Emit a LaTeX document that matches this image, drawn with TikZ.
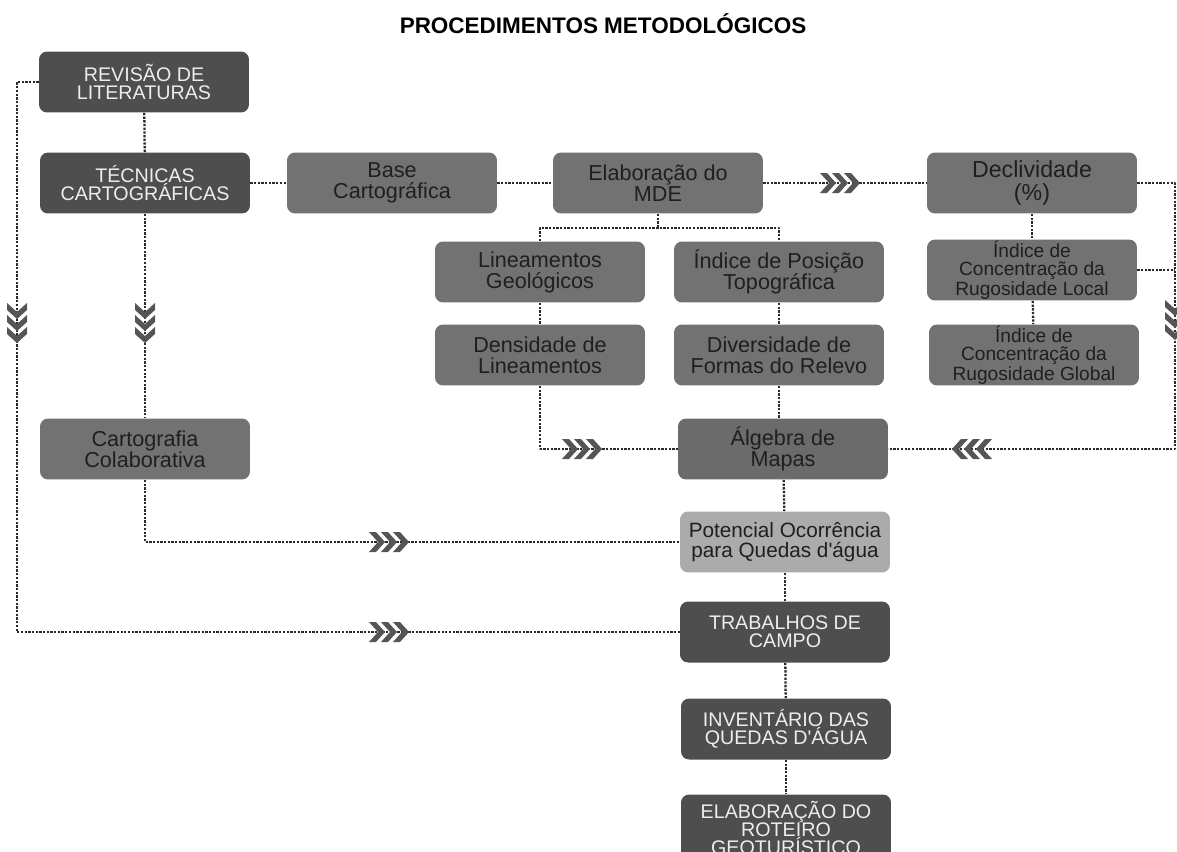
\documentclass[tikz,border=0pt]{standalone}
\usepackage{fontspec}
\setmainfont{Liberation Sans}
\definecolor{boxdark}{HTML}{4E4E4E}
\definecolor{boxmid}{HTML}{727272}
\definecolor{boxlight}{HTML}{ABABAB}
\definecolor{chevgray}{HTML}{555555}
\definecolor{dotgray}{HTML}{2A2A2A}
\tikzset{
  every picture/.style={line join=round},
  box/.style={rectangle, rounded corners=0.16cm, minimum width=4.2cm, minimum height=1.22cm, inner sep=0pt, align=center},
  darkbox/.style={box, fill=boxdark, text=white!93!black, font=\fontsize{11.2}{10.4}\selectfont},
  midbox/.style={box, fill=boxmid, text=black!88, font=\fontsize{12.3}{12}\selectfont},
  lightbox/.style={box, fill=boxlight, text=black!88, font=\fontsize{11.8}{11.6}\selectfont},
  link/.style={dotgray, line width=1.3pt, dash pattern=on 1.3pt off 0.8pt},
  chevs/.pic={
    \foreach \d in {-12,0,12}
      \fill[chevgray] (\d-8,10) -- (\d-1,10) -- (\d+8,0) -- (\d-1,-10) -- (\d-8,-10) -- (\d+1,0) -- cycle;
  },
}

\begin{document}
\begin{tikzpicture}[x=0.02cm, y=-0.02cm]
\useasboundingbox (0,0) rectangle (1177,852);
\node[font=\bfseries\fontsize{12.8}{14}\selectfont] (title) at (603,24) {PROCEDIMENTOS METODOLÓGICOS};

% coluna da esquerda
\node[darkbox] (rev) at (144,82) {REVISÃO DE\\LITERATURAS};
\node[darkbox] (tec) at (145,183) {TÉCNICAS\\CARTOGRÁFICAS};
\node[midbox] (carto) at (145,449) {Cartografia\\Colaborativa};

% linha do MDE
\node[midbox] (base) at (392,183) {Base\\Cartográfica};
\node[midbox] (mde) at (658,183) {Elaboração do\\MDE};
\node[midbox, font=\fontsize{13.2}{13}\selectfont] (decl) at (1032,183) {Declividade\\(\%)};
\node[midbox] (lin) at (540,272) {Lineamentos\\Geológicos};
\node[midbox] (ipt) at (779,272) {Índice de Posição\\Topográfica};
\node[midbox, font=\fontsize{10.9}{10.2}\selectfont] (rugl) at (1032,270) {Índice de\\Concentração da\\Rugosidade Local};
\node[midbox] (dens) at (540,355) {Densidade de\\Lineamentos};
\node[midbox] (div) at (779,355) {Diversidade de\\Formas do Relevo};
\node[midbox, font=\fontsize{10.9}{10.2}\selectfont] (rugg) at (1034,355) {Índice de\\Concentração da\\Rugosidade Global};

% coluna central
\node[midbox, fill=boxmid!94!black] (alg) at (783,449) {Álgebra de\\Mapas};
\node[lightbox] (pot) at (785,542) {Potencial Ocorrência\\para Quedas d\textquotesingle água};
\node[darkbox] (trab) at (785,632) {TRABALHOS DE\\CAMPO};
\node[darkbox] (inv) at (786,729) {INVENTÁRIO DAS\\QUEDAS D\textquotesingle ÁGUA};
\node[darkbox, minimum height=1.34cm] (rot) at (786,828) {ELABORAÇÃO DO\\ROTEIRO\\GEOTURÍSTICO};

\coordinate (lbus) at (17,0);
\coordinate (rbus) at (1175,0);
\coordinate (split) at (658,228);

\draw[link] (rev) -- (tec);
\draw[link] (tec) -- (carto);
\draw[link] (tec) -- (base);
\draw[link] (base) -- (mde);
\draw[link] (mde) -- (decl);
\draw[link] (mde.south) -- (split);
\draw[link] (lin.north) |- (split) -| (ipt.north);
\draw[link] (lin) -- (dens);
\draw[link] (ipt) -- (div);
\draw[link] (div.south) -- (div.south |- alg.north);
\draw[link] (dens.south) |- (alg.west);
\draw[link] (decl) -- (rugl);
\draw[link] (rugl) -- (rugg);
\draw[link] (decl.east) -| (rbus |- alg.east) -- (alg.east);
\draw[link] (rugl.east) -- (rbus |- rugl.east);
\draw[link] (alg) -- (pot);
\draw[link] (carto.south) |- (pot.west);
\draw[link] (rev.west) -| (lbus |- trab.west) -- (trab.west);
\draw[link] (pot) -- (trab);
\draw[link] (trab) -- (inv);
\draw[link] (inv) -- (rot);

% setas
\pic at (840,183) {chevs};
\pic at (582,449) {chevs};
\pic[rotate=180] at (972,449) {chevs};
\pic at (389,542) {chevs};
\pic at (389,632) {chevs};
\pic[rotate=-90] at (17,323) {chevs};
\pic[rotate=-90] at (145,323) {chevs};
\pic[rotate=-90] at (1175,320) {chevs};
\end{tikzpicture}
\end{document}
